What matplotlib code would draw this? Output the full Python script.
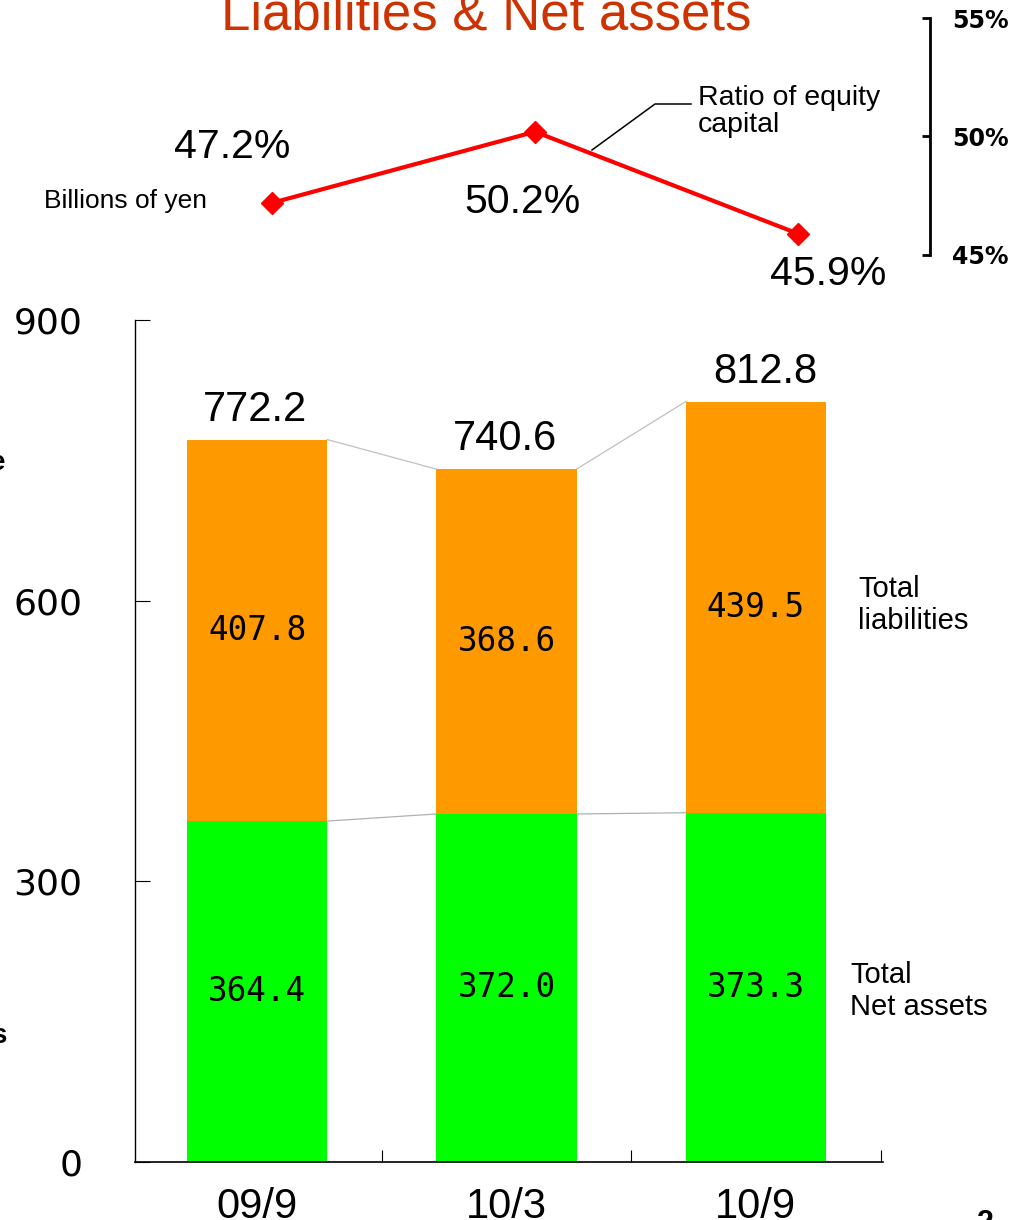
import matplotlib.pyplot as plt
import numpy as np
from matplotlib.lines import Line2D

# data
periods = ["09/9", "10/3", "10/9"]
net_assets = [364.4, 372.0, 373.3]
liabilities = [407.8, 368.6, 439.5]
totals = [772.2, 740.6, 812.8]
equity_ratio = [47.2, 50.2, 45.9]
ratio_labels = ["47.2%", "50.2%", "45.9%"]
y_ticks = [0, 300, 600, 900]
ratio_ticks = [45, 50, 55]

W, H = 1012, 1220
c_green = "#00ff00"
c_orange = "#ff9900"
c_title = "#cc3300"
sans = "Liberation Sans"


def fx(x):
    return x / W


def fy(y):
    return 1 - y / H


fig = plt.figure(figsize=(W / 100, H / 100), dpi=100)

# ---- stacked bars
ax = fig.add_axes([fx(135), fy(1162), fx(883) - fx(135), fy(320) - fy(1162)])
x = np.arange(len(periods))
w = 0.562
ax.bar(x, net_assets, width=w, color=c_green, zorder=2)
ax.bar(x, liabilities, width=w, bottom=net_assets, color=c_orange, zorder=2)

# thin grey connectors between the bars
for i in range(len(x) - 1):
    ax.plot([x[i] + w / 2, x[i + 1] - w / 2], [totals[i], totals[i + 1]],
            color="#c0c0c0", lw=0.9, zorder=1)
    ax.plot([x[i] + w / 2, x[i + 1] - w / 2], [net_assets[i], net_assets[i + 1]],
            color="#b0b0b0", lw=0.9, zorder=1)

total_dx = [-2, -2, 9]
for i in range(len(x)):
    ax.text(x[i], net_assets[i] / 2, f"{net_assets[i]:.1f}", ha="center", va="center",
            family="DejaVu Sans Mono", fontsize=23.5, zorder=3)
    ax.text(x[i], net_assets[i] + liabilities[i] / 2, f"{liabilities[i]:.1f}", ha="center",
            va="center", family="DejaVu Sans Mono", fontsize=23.5, zorder=3)
    ax.annotate(f"{totals[i]:.1f}", xy=(x[i], totals[i]), xytext=(total_dx[i], 19),
                textcoords="offset pixels", ha="center", va="baseline",
                family=sans, fontsize=30)

ax.set_xlim(-0.49, 2.51)
ax.set_ylim(0, 900)
ax.spines["top"].set_visible(False)
ax.spines["right"].set_visible(False)
ax.spines["left"].set_linewidth(1.0)
ax.spines["bottom"].set_linewidth(1.2)
ax.set_yticks(y_ticks)
ax.set_yticklabels([str(v) for v in y_ticks], family="DejaVu Sans", fontsize=26)
ax.tick_params(axis="y", direction="in", length=11, width=0.8, pad=38)
ax.set_xticks(x)
ax.set_xticklabels(periods, family=sans, fontsize=30)
ax.tick_params(axis="x", which="major", length=0, pad=18)
ax.set_xticks([0.5, 1.5, 2.5], minor=True)
ax.tick_params(axis="x", which="minor", direction="in", length=9, width=0.8)

# ---- equity ratio line
ax2 = fig.add_axes([fx(135), fy(255), fx(930) - fx(135), fy(18) - fy(255)])
ax2.patch.set_alpha(0)
xr = np.arange(len(equity_ratio))
ax2.plot(xr, equity_ratio, color="red", lw=3, marker="D", ms=11, zorder=3)
ax2.set_xlim(-0.521, 2.502)
ax2.set_ylim(45, 55)
for s in ["top", "left", "bottom"]:
    ax2.spines[s].set_visible(False)
ax2.spines["right"].set_linewidth(2)
ax2.set_xticks([])
ax2.yaxis.tick_right()
ax2.set_yticks(ratio_ticks)
ax2.set_yticklabels([f"{v}%" for v in ratio_ticks], family="DejaVu Sans",
                    fontweight="bold", fontsize=17)
ax2.tick_params(axis="y", direction="in", length=6, width=2, pad=16)

ratio_offsets = [(-40, 45), (-12, -81), (30, -51)]
for i in range(len(xr)):
    ax2.annotate(ratio_labels[i], xy=(xr[i], equity_ratio[i]), xytext=ratio_offsets[i],
                 textcoords="offset pixels", ha="center", va="baseline",
                 family=sans, fontsize=29.5, annotation_clip=False)

# leader line for the ratio label
fig.add_artist(Line2D([fx(592), fx(655), fx(691)], [fy(150), fy(104), fy(104)],
                      color="black", lw=1.1))

# ---- texts (multi-line: baseline is that of the last line)
fig.text(fx(486), fy(30), "Liabilities & Net assets", ha="center", va="baseline",
         family=sans, fontsize=38, color=c_title)
fig.text(fx(698), fy(132), "Ratio of equity\ncapital", ha="left", va="baseline",
         family=sans, fontsize=20.5, linespacing=1.03)
fig.text(fx(44), fy(208), "Billions of yen", ha="left", va="baseline",
         family=sans, fontsize=19)
fig.text(fx(858), fy(629), "Total\nliabilities", ha="left", va="baseline",
         family=sans, fontsize=21, linespacing=1.2)
fig.text(fx(850), fy(1015), "Total\nNet assets", ha="left", va="baseline",
         family=sans, fontsize=21, linespacing=1.2)

# cut-off fragments at the edges of the slide
fig.text(fx(5), fy(470), "e", ha="right", va="baseline", family=sans,
         fontsize=20, fontweight="bold")
fig.text(fx(6), fy(1043), "s", ha="right", va="baseline", family=sans,
         fontsize=20, fontweight="bold")
fig.text(fx(985), fy(1209), "2", ha="center", va="top", family=sans,
         fontsize=22, fontweight="bold")

fig.savefig("out.png", dpi=100)
